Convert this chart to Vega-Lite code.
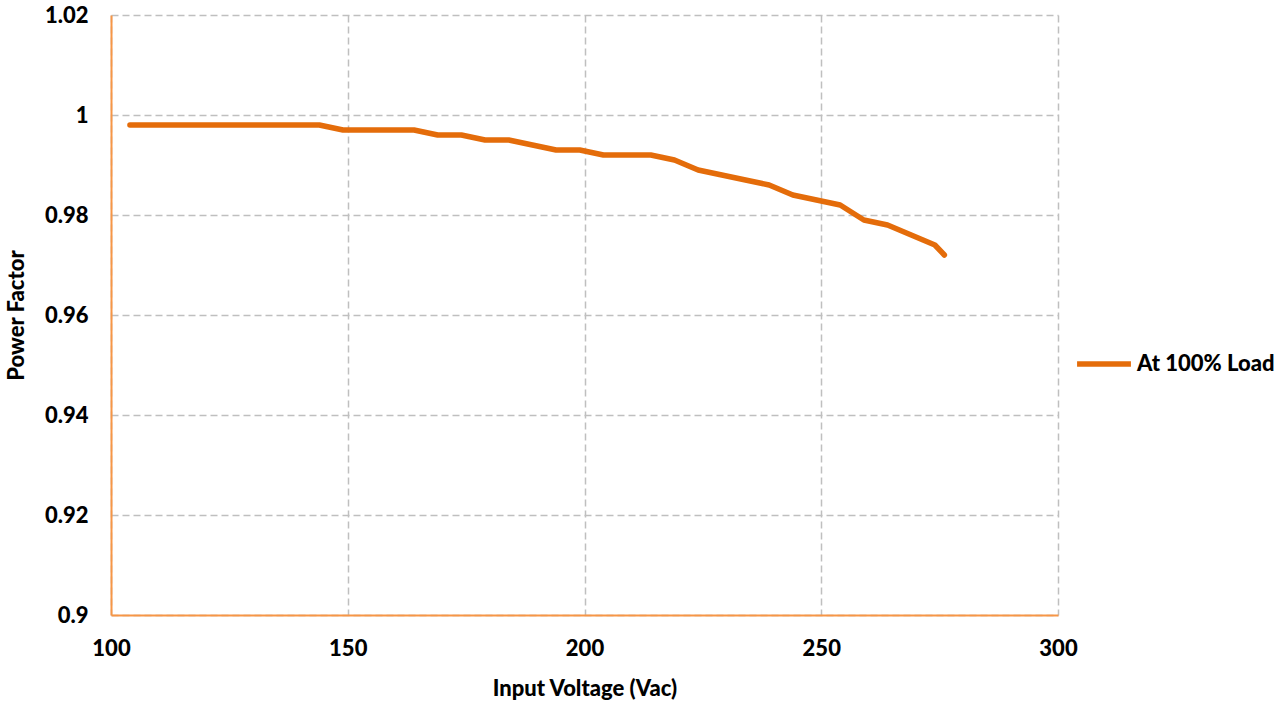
{
  "$schema": "https://vega.github.io/schema/vega-lite/v6.json",
  "width": 947,
  "height": 600,
  "autosize": "none",
  "padding": {"left": 111, "top": 15, "right": 230, "bottom": 93},
  "background": "white",
  "config": {"view": {"stroke": null}},
  "data": {
    "values": [
      {"v": 104, "pf": 0.998, "s": "At 100% Load"},
      {"v": 109, "pf": 0.998, "s": "At 100% Load"},
      {"v": 114, "pf": 0.998, "s": "At 100% Load"},
      {"v": 119, "pf": 0.998, "s": "At 100% Load"},
      {"v": 124, "pf": 0.998, "s": "At 100% Load"},
      {"v": 129, "pf": 0.998, "s": "At 100% Load"},
      {"v": 134, "pf": 0.998, "s": "At 100% Load"},
      {"v": 139, "pf": 0.998, "s": "At 100% Load"},
      {"v": 144, "pf": 0.998, "s": "At 100% Load"},
      {"v": 149, "pf": 0.997, "s": "At 100% Load"},
      {"v": 154, "pf": 0.997, "s": "At 100% Load"},
      {"v": 159, "pf": 0.997, "s": "At 100% Load"},
      {"v": 164, "pf": 0.997, "s": "At 100% Load"},
      {"v": 169, "pf": 0.996, "s": "At 100% Load"},
      {"v": 174, "pf": 0.996, "s": "At 100% Load"},
      {"v": 179, "pf": 0.995, "s": "At 100% Load"},
      {"v": 184, "pf": 0.995, "s": "At 100% Load"},
      {"v": 189, "pf": 0.994, "s": "At 100% Load"},
      {"v": 194, "pf": 0.993, "s": "At 100% Load"},
      {"v": 199, "pf": 0.993, "s": "At 100% Load"},
      {"v": 204, "pf": 0.992, "s": "At 100% Load"},
      {"v": 209, "pf": 0.992, "s": "At 100% Load"},
      {"v": 214, "pf": 0.992, "s": "At 100% Load"},
      {"v": 219, "pf": 0.991, "s": "At 100% Load"},
      {"v": 224, "pf": 0.989, "s": "At 100% Load"},
      {"v": 229, "pf": 0.988, "s": "At 100% Load"},
      {"v": 234, "pf": 0.987, "s": "At 100% Load"},
      {"v": 239, "pf": 0.986, "s": "At 100% Load"},
      {"v": 244, "pf": 0.984, "s": "At 100% Load"},
      {"v": 249, "pf": 0.983, "s": "At 100% Load"},
      {"v": 254, "pf": 0.982, "s": "At 100% Load"},
      {"v": 259, "pf": 0.979, "s": "At 100% Load"},
      {"v": 264, "pf": 0.978, "s": "At 100% Load"},
      {"v": 269, "pf": 0.976, "s": "At 100% Load"},
      {"v": 274, "pf": 0.974, "s": "At 100% Load"},
      {"v": 276, "pf": 0.972, "s": "At 100% Load"}
    ]
  },
  "mark": {"type": "line", "strokeWidth": 5.5, "strokeCap": "round", "strokeJoin": "round"},
  "encoding": {
    "x": {
      "field": "v", "type": "quantitative",
      "scale": {"domain": [100, 300], "nice": false, "zero": false},
      "axis": {
        "title": "Input Voltage (Vac)",
        "values": [100, 150, 200, 250, 300],
        "grid": true, "gridColor": "#BFBFBF", "gridDash": [7, 4], "gridWidth": 1.5,
        "domainColor": "#F79646", "domainWidth": 2,
        "ticks": false,
        "labelFlush": false,
        "labelFont": "Lato", "labelFontWeight": 900, "labelFontSize": 22, "labelColor": "#000000",
        "labelPadding": 23,
        "titleFont": "Lato", "titleFontWeight": 900, "titleFontSize": 22, "titleColor": "#000000",
        "titlePadding": 19
      }
    },
    "y": {
      "field": "pf", "type": "quantitative",
      "scale": {"domain": [0.9, 1.02], "nice": false, "zero": false},
      "axis": {
        "title": "Power Factor",
        "values": [0.9, 0.92, 0.94, 0.96, 0.98, 1, 1.02],
        "labelExpr": "datum.value == 1 ? '1' : datum.value == 0.9 ? '0.9' : format(datum.value, '.2f')",
        "grid": true, "gridColor": "#BFBFBF", "gridDash": [7, 4], "gridWidth": 1.5,
        "domainColor": "#F79646", "domainWidth": 2,
        "ticks": false,
        "labelFlush": false,
        "labelFont": "Lato", "labelFontWeight": 900, "labelFontSize": 22, "labelColor": "#000000",
        "labelPadding": 23,
        "titleFont": "Lato", "titleFontWeight": 900, "titleFontSize": 22, "titleColor": "#000000",
        "titlePadding": 16
      }
    },
    "color": {
      "field": "s", "type": "nominal",
      "scale": {"range": ["#E46C0A"]},
      "legend": {
        "title": null,
        "orient": "none",
        "legendX": 963,
        "legendY": 319,
        "symbolType": "stroke",
        "symbolSize": 2900,
        "symbolStrokeWidth": 5.5,
        "labelFont": "Lato", "labelFontWeight": 900, "labelFontSize": 22, "labelColor": "#000000",
        "labelOffset": 3,
        "labelLimit": 300
      }
    }
  }
}
